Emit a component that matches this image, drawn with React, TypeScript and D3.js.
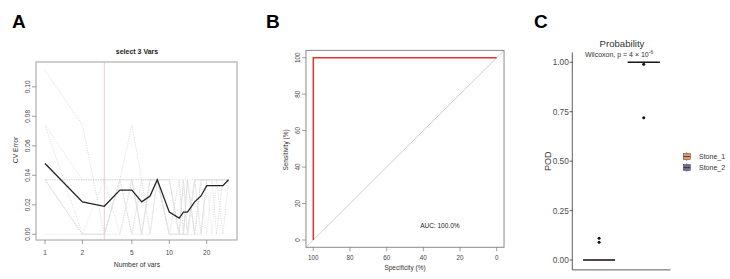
import React from 'react';
import * as d3 from 'd3';

// ---------- Panel A data ----------
const nVars = [1, 2, 3, 4, 5, 6, 7, 8, 10, 12, 13, 14, 16, 18, 20, 22, 24, 27, 30];
const meanCvError = [0.048, 0.022, 0.019, 0.030, 0.030, 0.022, 0.026, 0.037, 0.015, 0.011, 0.015, 0.015, 0.022, 0.026, 0.033, 0.033, 0.033, 0.033, 0.037];
const rep1 = [0.111, 0.074, 0, 0.037, 0.037, 0, 0.037, 0.037, 0, 0, 0.037, 0, 0.037, 0.037, 0.037, 0.037, 0.037, 0.037, 0.037];
const rep2 = [0.074, 0.037, 0.037, 0, 0.037, 0.037, 0, 0.037, 0, 0.037, 0, 0.037, 0, 0.037, 0.037, 0.037, 0.037, 0.037, 0.037];
const rep3 = [0.074, 0, 0, 0.037, 0.074, 0.037, 0.037, 0.037, 0.037, 0, 0, 0, 0.037, 0, 0.037, 0.037, 0.037, 0.037, 0.037];
const rep4 = [0.037, 0.037, 0.037, 0.037, 0.037, 0, 0.037, 0.037, 0, 0, 0.037, 0.037, 0.037, 0.037, 0.037, 0, 0.037, 0.037, 0.037];
const rep5 = [0.037, 0.037, 0.037, 0.037, 0, 0.037, 0.037, 0.037, 0.037, 0, 0, 0, 0, 0.037, 0.037, 0.037, 0.037, 0, 0.037];
const rep6 = [0.037, 0, 0.037, 0.037, 0.037, 0.037, 0, 0.037, 0, 0.037, 0.037, 0, 0.037, 0.037, 0, 0.037, 0.037, 0.037, 0.037];
const rep7 = [0.037, 0, 0, 0.037, 0.037, 0, 0.037, 0.037, 0.037, 0, 0, 0.037, 0, 0, 0.037, 0.037, 0, 0.037, 0.037];
const rep8 = [0.037, 0.037, 0.037, 0.037, 0, 0.037, 0.037, 0.037, 0, 0, 0.037, 0, 0.037, 0.037, 0.037, 0.037, 0.037, 0.037, 0.037];
const rep9 = [0.037, 0, 0, 0, 0.037, 0.037, 0.037, 0.037, 0.037, 0.037, 0, 0.037, 0, 0.037, 0.037, 0.037, 0.037, 0.037, 0.037];
const rep10 = [0, 0, 0, 0.037, 0, 0, 0, 0.037, 0, 0, 0, 0, 0.037, 0, 0.037, 0.037, 0.037, 0.037, 0.037];
const repSeries = [rep1, rep2, rep3, rep4, rep5, rep6, rep7, rep8, rep9, rep10];
const selectedVars = 3;
const aXTicks = [1, 2, 5, 10, 20];
const aYTicks = [0, 0.02, 0.04, 0.06, 0.08, 0.10];

// ---------- Panel B data ----------
const rocSpecificity = [100, 100, 0];
const rocSensitivity = [0, 100, 100];
const bTicks = [100, 80, 60, 40, 20, 0];
const aucLabel = 'AUC: 100.0%';

// ---------- Panel C data ----------
const groups = ['Stone_1', 'Stone_2'];
const groupColors = ['#E8956B', '#6D6E96'];
const medians = [0, 1];
const outliers1 = [0.09, 0.11];
const outliers2 = [0.72, 0.99];
const cYTicks = [0, 0.25, 0.5, 0.75, 1.0];

const FONT = 'Liberation Sans, Arial, Helvetica, sans-serif';
const repColors = ['#d9d9d9', '#e0e0e0', '#dcdcdc', '#e3e3e3', '#dedede', '#e5e5e5', '#dadada', '#e2e2e2', '#dddddd', '#e4e4e4'];

export default function App() {
  // Panel A scales
  const ax = d3.scaleLog().domain([1, 30]).range([45, 228.6]);
  const ay = d3.scaleLinear().domain([0, 0.1]).range([234.3, 86.8]);
  const aBox = { x0: 36, x1: 237, y0: 62, y1: 240 };
  const lineA = d3.line<number>().x((_, i) => ax(nVars[i])).y((d) => ay(d));

  // Panel B scales
  const bx = d3.scaleLinear().domain([100, 0]).range([313.3, 496.7]);
  const by = d3.scaleLinear().domain([0, 100]).range([240, 57.7]);
  const bBox = { x0: bx(104), x1: bx(-4), y0: by(104), y1: by(-4) };
  const rocLine = d3.line<number>().x((d) => bx(d)).y((_, i) => by(rocSensitivity[i]));

  // Panel C scales
  const cy = d3.scaleLinear().domain([0, 1]).range([260, 62.3]);
  const cx = d3.scalePoint<string>().domain(groups).range([572.3, 670.5]).padding(0.6);
  const cPanel = { x0: 572.3, x1: 670.5, y0: cy(1.05), y1: cy(-0.05) };
  const boxHalf = 16;

  return (
    <svg width={730} height={279} style={{ position: 'absolute', left: 0, top: 0, background: '#fff' }} fontFamily={FONT}>
      <rect x={0} y={0} width={730} height={279} fill="#fff" />
      {/* Panel labels */}
      <text x={12} y={28} fontSize={19} fontWeight="bold" fill="#000">A</text>
      <text x={266} y={28} fontSize={19} fontWeight="bold" fill="#000">B</text>
      <text x={534} y={28} fontSize={19} fontWeight="bold" fill="#000">C</text>

      {/* ---------- Panel A ---------- */}
      <g>
        <text x={137} y={54} fontSize={7} fontWeight="bold" textAnchor="middle" fill="#222">select 3 Vars</text>
        {repSeries.map((s, k) => (
          <path key={k} d={lineA(s) || ''} fill="none" stroke={repColors[k]} strokeWidth={0.9} strokeDasharray="1.2,1.2" />
        ))}
        <line x1={ax(selectedVars)} x2={ax(selectedVars)} y1={aBox.y0} y2={aBox.y1} stroke="#e8cccc" strokeWidth={1} />
        <path d={lineA(meanCvError) || ''} fill="none" stroke="#222" strokeWidth={1.3} />
        <rect x={aBox.x0} y={aBox.y0} width={aBox.x1 - aBox.x0} height={aBox.y1 - aBox.y0} fill="none" stroke="#b4b4b4" strokeWidth={1.3} />
        {aXTicks.map((t) => (
          <g key={t}>
            <line x1={ax(t)} x2={ax(t)} y1={aBox.y1} y2={aBox.y1 + 4} stroke="#777" strokeWidth={0.7} />
            <text x={ax(t)} y={255} fontSize={6.5} textAnchor="middle" fill="#444">{t}</text>
          </g>
        ))}
        {aYTicks.map((t) => (
          <g key={t}>
            <line x1={aBox.x0} x2={aBox.x0 - 4} y1={ay(t)} y2={ay(t)} stroke="#777" strokeWidth={0.7} />
            <text transform={`translate(${aBox.x0 - 6},${ay(t)}) rotate(-90)`} fontSize={6.5} textAnchor="middle" fill="#444">{t.toFixed(2)}</text>
          </g>
        ))}
        <text x={137} y={267} fontSize={6.8} textAnchor="middle" fill="#333">Number of vars</text>
        <text transform={`translate(18,150) rotate(-90)`} fontSize={6.8} textAnchor="middle" fill="#333">CV Error</text>
      </g>

      {/* ---------- Panel B ---------- */}
      <g>
        <line x1={bx(104)} y1={by(-4)} x2={bx(-4)} y2={by(104)} stroke="#cfcfcf" strokeWidth={1} />
        <path d={rocLine(rocSpecificity) || ''} fill="none" stroke="#e3332b" strokeWidth={1.5} />
        <rect x={bBox.x0} y={bBox.y0} width={bBox.x1 - bBox.x0} height={bBox.y1 - bBox.y0} fill="none" stroke="#8a8a8a" strokeWidth={1} />
        {bTicks.map((t) => (
          <g key={'bx' + t}>
            <line x1={bx(t)} x2={bx(t)} y1={bBox.y1} y2={bBox.y1 + 4} stroke="#777" strokeWidth={0.7} />
            <text x={bx(t)} y={260} fontSize={6.3} textAnchor="middle" fill="#444">{t}</text>
          </g>
        ))}
        {bTicks.map((t) => (
          <g key={'by' + t}>
            <line x1={bBox.x0} x2={bBox.x0 - 4} y1={by(t)} y2={by(t)} stroke="#777" strokeWidth={0.7} />
            <text transform={`translate(${bBox.x0 - 6},${by(t)}) rotate(-90)`} fontSize={6.3} textAnchor="middle" fill="#444">{t}</text>
          </g>
        ))}
        <text x={405} y={270} fontSize={6.5} textAnchor="middle" fill="#333">Specificity (%)</text>
        <text transform={`translate(288,150) rotate(-90)`} fontSize={6.5} textAnchor="middle" fill="#333">Sensitivity (%)</text>
        <text x={bx(31)} y={by(6.5)} fontSize={6.5} textAnchor="middle" fill="#222">{aucLabel}</text>
      </g>

      {/* ---------- Panel C ---------- */}
      <g>
        <text x={622} y={47} fontSize={9.6} textAnchor="middle" fill="#333">Probability</text>
        <text x={619} y={57} fontSize={7} textAnchor="middle" fill="#333">
          Wilcoxon, p = 4 × 10<tspan dy={-3} fontSize={4.8}>-6</tspan>
        </text>
        <line x1={cPanel.x0} x2={cPanel.x0} y1={cPanel.y0} y2={cPanel.y1} stroke="#333" strokeWidth={0.8} />
        <line x1={cPanel.x0} x2={cPanel.x1} y1={cPanel.y1} y2={cPanel.y1} stroke="#333" strokeWidth={0.8} />
        {cYTicks.map((t) => (
          <g key={t}>
            <line x1={cPanel.x0 - 2.7} x2={cPanel.x0} y1={cy(t)} y2={cy(t)} stroke="#333" strokeWidth={0.8} />
            <text x={cPanel.x0 - 3.5} y={cy(t) + 3} fontSize={8.3} textAnchor="end" fill="#4d4d4d">{t.toFixed(2)}</text>
          </g>
        ))}
        <text transform={`translate(551,${cy(0.5)}) rotate(-90)`} fontSize={9} textAnchor="middle" fill="#333">POD</text>
        {groups.map((g, i) => (
          <g key={g}>
            <rect x={(cx(g) as number) - boxHalf} y={cy(medians[i]) - 0.4} width={boxHalf * 2} height={0.8} fill={groupColors[i]} />
            <line x1={(cx(g) as number) - boxHalf} x2={(cx(g) as number) + boxHalf} y1={cy(medians[i])} y2={cy(medians[i])} stroke="#1a1a1a" strokeWidth={1.6} />
          </g>
        ))}
        {outliers1.map((v, i) => (
          <circle key={'o1' + i} cx={cx('Stone_1') as number} cy={cy(v)} r={1.5} fill="#111" />
        ))}
        {outliers2.map((v, i) => (
          <circle key={'o2' + i} cx={cx('Stone_2') as number} cy={cy(v)} r={1.5} fill="#111" />
        ))}
        {/* Legend */}
        {groups.map((g, i) => {
          const ly = 156.5 + i * 11;
          return (
            <g key={'lg' + g}>
              <line x1={686.7} x2={686.7} y1={ly - 4.5} y2={ly + 4.5} stroke="#444" strokeWidth={0.5} />
              <rect x={683.3} y={ly - 3} width={7} height={6} fill={groupColors[i]} stroke="#444" strokeWidth={0.5} />
              <line x1={683.3} x2={690.3} y1={ly} y2={ly} stroke="#333" strokeWidth={0.8} />
              <text x={699} y={ly + 2.5} fontSize={7} fill="#333">{g}</text>
            </g>
          );
        })}
      </g>
    </svg>
  );
}
